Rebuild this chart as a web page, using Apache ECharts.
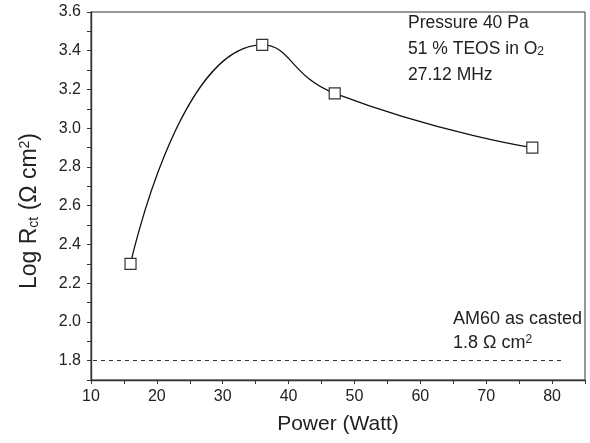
<!DOCTYPE html>
<html>
<head>
<meta charset="utf-8">
<script src="https://cdn.jsdelivr.net/npm/echarts@6/dist/echarts.min.js"></script>
<style>
  html, body { margin: 0; padding: 0; background: #fff; }
  #chart { width: 590px; height: 443px; }
</style>
</head>
<body>
<div id="chart"></div>
<script>
// data
const power = [16, 36, 47, 77];           // Watt
const logRct = [2.30, 3.43, 3.18, 2.90];  // log(ohm cm2)
const castBaseline = 1.8;                 // AM60 as casted
const baselineSpan = [10.3, 81.8];

const FONT = 'Liberation Sans, Arial, Helvetica, sans-serif';
const INK = '#222';

let chart = echarts.init(document.getElementById('chart'));

let option = {
    animation: false,
    backgroundColor: '#fff',
    grid: {
        left: 91, right: 5, top: 12, bottom: 63,
        show: true, borderColor: '#333', borderWidth: 1
    },
    xAxis: {
        type: 'value',
        min: 10, max: 85, interval: 5,
        name: 'Power (Watt)',
        nameLocation: 'middle',
        nameGap: 34,
        nameTextStyle: { fontFamily: FONT, fontSize: 21, color: INK },
        axisLine: { lineStyle: { color: '#333', width: 1.4 } },
        axisTick: { length: 4, lineStyle: { color: '#333' } },
        axisLabel: {
            fontFamily: FONT, fontSize: 16, color: INK, margin: 9,
            formatter: v => (Math.round(v) % 10 === 0 ? String(Math.round(v)) : '')
        },
        splitLine: { show: false }
    },
    yAxis: {
        type: 'value',
        min: 1.7, max: 3.6, interval: 0.1,
        name: 'Log R{sub|ct} (Ω cm{sup|2})',
        nameLocation: 'middle',
        nameRotate: 90,
        nameGap: 50,
        nameTextStyle: {
            fontFamily: FONT, fontSize: 23, color: INK,
            padding: [0, 30, 0, 0],
            rich: {
                sub: { fontFamily: FONT, fontSize: 14, color: INK, verticalAlign: 'bottom', padding: [9, 0, 0, 0] },
                sup: { fontFamily: FONT, fontSize: 14, color: INK, verticalAlign: 'top', padding: [0, 0, 9, 0] }
            }
        },
        axisLine: { show: true, lineStyle: { color: '#333', width: 1.4 } },
        axisTick: { length: 4, lineStyle: { color: '#333' } },
        axisLabel: {
            fontFamily: FONT, fontSize: 16, color: INK, margin: 10,
            formatter: v => (Math.round(v * 10) % 2 === 0 ? v.toFixed(1) : '')
        },
        splitLine: { show: false }
    },
    graphic: [
        { type: 'text', left: 408, top: 14, style: { text: 'Pressure 40 Pa', font: '17.5px ' + FONT, fill: INK } },
        {
            type: 'text', left: 408, top: 40,
            style: {
                text: '51 % TEOS in O{sub|2}', font: '17.5px ' + FONT, fill: INK,
                rich: { sub: { fontSize: 12, fontFamily: FONT, fill: INK, verticalAlign: 'bottom', padding: [6, 0, 0, 0] } }
            }
        },
        { type: 'text', left: 408, top: 66, style: { text: '27.12 MHz', font: '17.5px ' + FONT, fill: INK } },
        { type: 'text', left: 453, top: 310, style: { text: 'AM60 as casted', font: '18px ' + FONT, fill: INK } },
        {
            type: 'text', left: 453, top: 334,
            style: {
                text: '1.8 Ω cm{sup|2}', font: '18px ' + FONT, fill: INK,
                rich: { sup: { fontSize: 12, fontFamily: FONT, fill: INK, verticalAlign: 'top', padding: [0, 0, 6, 0] } }
            }
        }
    ],
    series: [{
        name: 'Log Rct',
        type: 'line',
        smooth: 0.55,
        data: power.map((p, i) => [p, logRct[i]]),
        symbol: 'rect',
        symbolSize: 11,
        lineStyle: { color: '#111', width: 1.3 },
        itemStyle: { color: '#fff', borderColor: '#333', borderWidth: 1.2 },
        markLine: {
            silent: true,
            symbol: 'none',
            label: { show: false },
            lineStyle: { color: '#333', width: 1, type: [4, 4] },
            data: [[
                { coord: [baselineSpan[0], castBaseline] },
                { coord: [baselineSpan[1], castBaseline] }
            ]]
        }
    }]
};

chart.setOption(option);
</script>
</body>
</html>
